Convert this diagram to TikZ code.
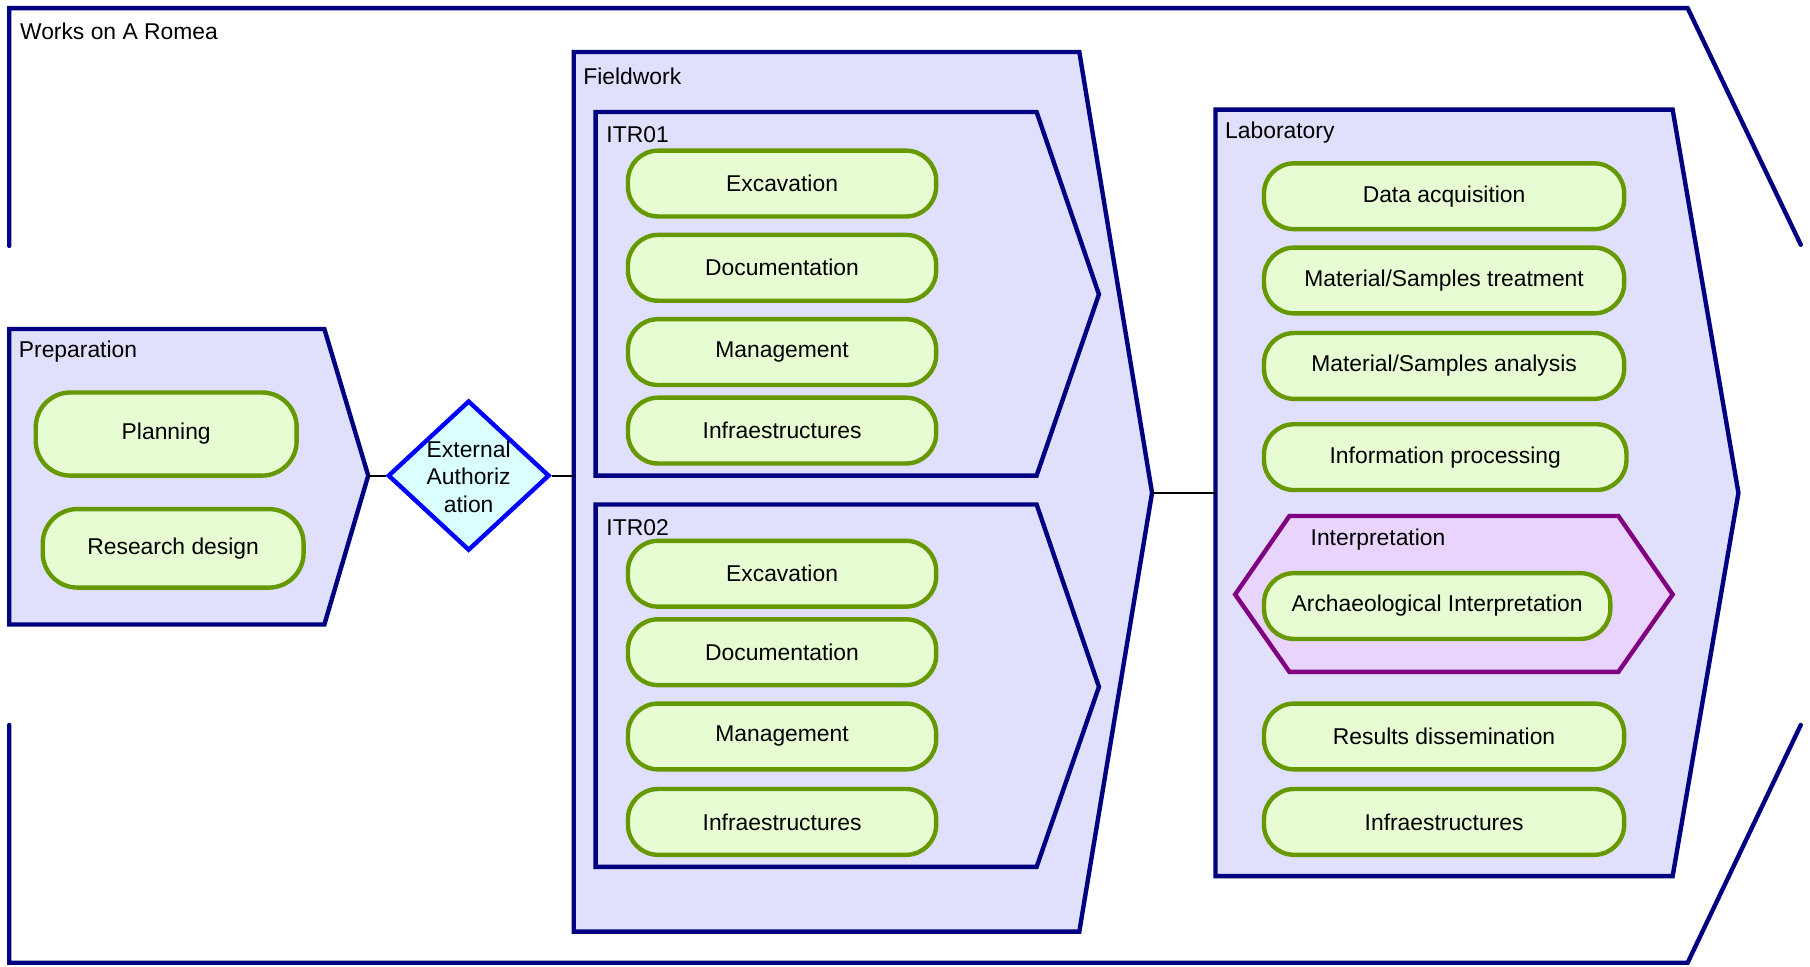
\documentclass[tikz,border=0pt]{standalone}
\usepackage{fontspec}
\setmainfont{Liberation Sans}
\usetikzlibrary{shapes.geometric}

\definecolor{framenavy}{RGB}{0,0,128}
\definecolor{phasefill}{RGB}{224,224,252}
\definecolor{taskfill}{RGB}{232,252,212}
\definecolor{taskline}{RGB}{102,153,0}
\definecolor{gatefill}{RGB}{217,255,255}
\definecolor{gateline}{RGB}{0,0,255}
\definecolor{subfill}{RGB}{232,212,252}
\definecolor{subline}{RGB}{128,0,128}

\tikzset{
  phase/.style={draw=framenavy, fill=phasefill, line width=1.9pt},
  frame/.style={draw=framenavy, line width=1.9pt, line cap=round},
  subphase/.style={draw=subline, fill=subfill, line width=1.9pt},
  title/.style={anchor=west, inner sep=0pt},
  task/.style={draw=taskline, fill=taskfill, line width=1.9pt, rounded corners=13pt,
               minimum height=28.5pt, inner sep=0pt},
  itrtask/.style={task, minimum width=133.5pt},
  labtask/.style={task, minimum width=156pt},
  gate/.style={diamond, draw=gateline, fill=gatefill, line width=1.9pt,
               minimum width=70pt, minimum height=65pt, inner sep=0pt},
  link/.style={draw=black, line width=0.9pt},
}

\begin{document}
\begin{tikzpicture}[x=0.5pt, y=-0.5pt, font=\fontsize{9.9pt}{12pt}\selectfont]
\useasboundingbox (0,0) rectangle (1568,837);

% outer frame, open on both sides
\draw[frame] (8,213) -- (8,7) -- (1462,7) -- (1560,212);
\draw[frame] (8,628) -- (8,834) -- (1462,834) -- (1560,628);
\node[title] (works) at (17,27) {Works on A Romea};

% Preparation
\draw[phase] (8,285) -- (281,285) -- (319,412) -- (281,541) -- (8,541) -- cycle;
\coordinate (prep-out) at (319,412);
\node[title] (prep) at (16,305) {Preparation};
\node[task, minimum width=113pt, minimum height=36pt, rounded corners=15pt] (planning) at (144,376) {Planning};
\node[task, minimum width=113pt, minimum height=34pt, rounded corners=15pt] (design) at (150,475) {Research design};

% authorization gate
\node[gate] (auth) at (406,412) {};
\node[align=center, inner sep=0pt] (auth-text) at (406,413) {External\\Authoriz\\ation};

% Fieldwork
\draw[phase] (497,45) -- (935,45) -- (998,427) -- (935,807) -- (497,807) -- cycle;
\coordinate (field-in) at (497,412);
\coordinate (field-out) at (998,427);
\node[title] (field) at (505,66) {Fieldwork};

% ITR01
\draw[phase] (516,97) -- (898,97) -- (952,255) -- (898,412) -- (516,412) -- cycle;
\node[title] (itr1) at (525,117) {ITR01};
\node[itrtask] (a-exc) at (677.5,159) {Excavation};
\node[itrtask] (a-doc) at (677.5,232) {Documentation};
\node[itrtask] (a-man) at (677.5,305) {Management};
\node[itrtask] (a-inf) at (677.5,373) {Infraestructures};

% ITR02
\draw[phase] (516,437) -- (898,437) -- (952,595) -- (898,751) -- (516,751) -- cycle;
\node[title] (itr2) at (525,457) {ITR02};
\node[itrtask] (b-exc) at (677.5,497) {Excavation};
\node[itrtask] (b-doc) at (677.5,565) {Documentation};
\node[itrtask] (b-man) at (677.5,638) {Management};
\node[itrtask] (b-inf) at (677.5,712) {Infraestructures};

% Laboratory
\draw[phase] (1053,95) -- (1449,95) -- (1506,427) -- (1449,759) -- (1053,759) -- cycle;
\coordinate (lab-in) at (1053,427);
\node[title] (lab) at (1061,115) {Laboratory};
\node[labtask] (l-data) at (1251,170) {Data acquisition};
\node[labtask] (l-treat) at (1251,243) {Material/Samples treatment};
\node[labtask] (l-anal) at (1251,317) {Material/Samples analysis};
\node[labtask, minimum width=157pt] (l-info) at (1252,396) {Information processing};

% Interpretation
\draw[subphase] (1070,515) -- (1117,447) -- (1402,447) -- (1449,515) -- (1402,582) -- (1117,582) -- cycle;
\node[title] (interp) at (1135,467) {Interpretation};
\node[task, minimum width=150pt] (l-arch) at (1245,525) {Archaeological Interpretation};

\node[labtask] (l-res) at (1251,638) {Results dissemination};
\node[labtask] (l-inf) at (1251,712) {Infraestructures};

% connectors
\draw[link] (prep-out) -- (auth.west);
\draw[link] (auth.east) -- (field-in);
\draw[link] (field-out) -- (lab-in);
\end{tikzpicture}
\end{document}
